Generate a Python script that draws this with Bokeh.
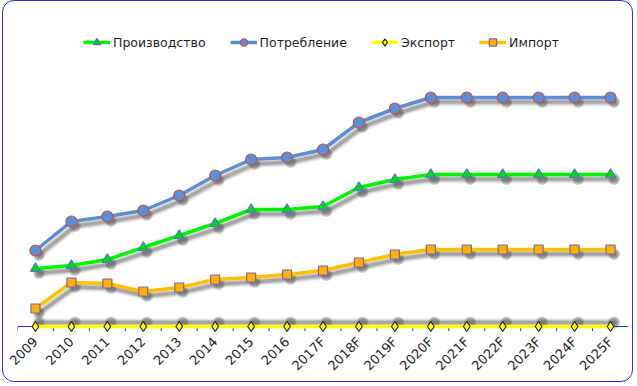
import numpy as np
from bokeh.plotting import figure
from bokeh.models import ColumnDataSource, FactorRange, Range1d, Legend, LegendItem, Span
from bokeh.transform import dodge
from bokeh.embed import file_html
from bokeh.resources import INLINE

years = ["2009", "2010", "2011", "2012", "2013", "2014", "2015", "2016", "2017F",
         "2018F", "2019F", "2020F", "2021F", "2022F", "2023F", "2024F", "2025F"]
production = [5.8, 6.1, 6.7, 7.9, 9.1, 10.3, 11.7, 11.7, 12.0, 13.9, 14.7, 15.2, 15.2, 15.2, 15.2, 15.2, 15.2]
consumption = [7.6, 10.5, 11.0, 11.6, 13.1, 15.1, 16.7, 16.9, 17.7, 20.4, 21.8, 22.9, 22.9, 22.9, 22.9, 22.9, 22.9]
export = [0.0] * 17
imports = [1.8, 4.4, 4.3, 3.5, 3.9, 4.7, 4.9, 5.2, 5.6, 6.4, 7.2, 7.7, 7.7, 7.7, 7.7, 7.7, 7.7]

labels = ["Производство", "Потребление", "Экспорт", "Импорт"]

FONT = "DejaVu Sans"
AXIS_BLUE = "#2a2af0"

src = ColumnDataSource(dict(x=years, prod=production, cons=consumption, exp=export, imp=imports))

p = figure(width=631, height=382, x_range=FactorRange(*years, range_padding=0),
           y_range=Range1d(-0.5, 31.5), output_backend="svg", toolbar_location=None,
           min_border_left=14, min_border_right=6, min_border_top=10, min_border_bottom=52)
p.styles = {"margin-left": "2px", "border": "1px solid #2b2be6", "border-radius": "12px"}
p.outline_line_color = None
p.xgrid.visible = False
p.ygrid.visible = False
p.yaxis.visible = False
p.background_fill_color = "white"
p.border_fill_color = None

ax = p.xaxis[0]
ax.axis_line_color = None
ax.major_tick_line_color = None
ax.minor_tick_line_color = None
ax.major_label_orientation = np.pi / 4
ax.major_label_text_font = FONT
ax.major_label_text_font_size = "13px"
ax.major_label_text_color = "#1e1e1e"
ax.major_label_standoff = 2

# axis line at zero and ticks between categories
p.add_layout(Span(location=0, dimension="width", line_color=AXIS_BLUE, line_width=1.2))
p.segment(x0=dodge("x", -0.5, range=p.x_range), y0=0, x1=dodge("x", -0.5, range=p.x_range), y1=-0.45,
          source=src, line_color=AXIS_BLUE, line_width=1)

dx = 0.1
dy = -0.45
shadow_col = "#444444"

def shadow(col, up=False):
    yy = dodge(col, (0.4 if up else dy))
    xx = dodge("x", dx, range=p.x_range)
    for w, a in [(9, 0.07), (7, 0.11), (5, 0.16), (3, 0.24)]:
        p.line(x=xx, y=yy, source=src, line_width=w, line_color=shadow_col, line_alpha=a,
               line_join="round", line_cap="round")
    p.scatter(x=xx, y=yy, source=src, size=12, fill_color=shadow_col, fill_alpha=0.24, line_color=None)
    p.scatter(x=xx, y=yy, source=src, size=9, fill_color=shadow_col, fill_alpha=0.28, line_color=None)

series = [
    ("prod", "#00f500", "triangle", "#00dd00", "#4a7ac8", 10),
    ("cons", "#5b8dd6", "circle", "#5b8fd8", "#c0504d", 11),
    ("exp", "#ffff00", "diamond", "#ffff00", "#222222", 10),
    ("imp", "#ffc000", "square", "#ffb000", "#8064a2", 9),
]

items = []
for (col, lc, mk, fc, oc, sz), lab in zip(series, labels):
    shadow(col, up=(col == "exp"))
    lvl = "overlay" if col == "exp" else "glyph"
    r1 = p.line(x="x", y=col, source=src, line_color=lc, line_width=3.5, level=lvl)
    r2 = p.scatter(x="x", y=col, source=src, marker=mk, size=sz, fill_color=fc, line_color=oc,
                   line_width=1.2, level=lvl)
    items.append(LegendItem(label=lab, renderers=[r1, r2]))

leg = Legend(items=items, orientation="horizontal", location=(66, 280),
             background_fill_alpha=0, border_line_color=None, padding=0, margin=0,
             spacing=24, label_standoff=3, glyph_width=27, glyph_height=18,
             label_text_font=FONT, label_text_font_size="12.5px", label_text_color="#1e1e1e")
p.add_layout(leg)

open("out.html", "w").write(file_html(p, INLINE))
